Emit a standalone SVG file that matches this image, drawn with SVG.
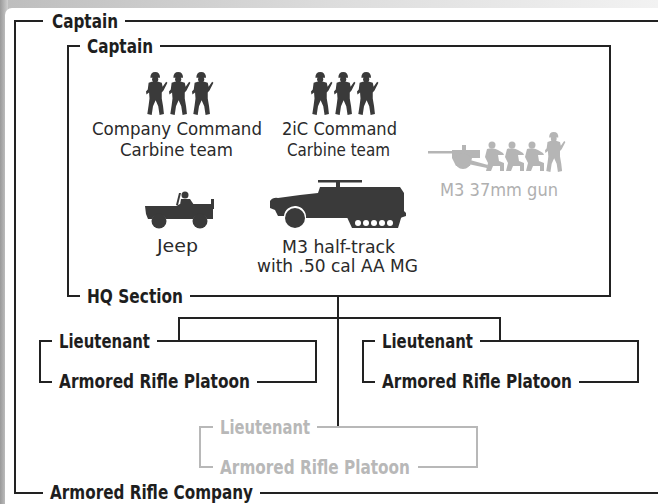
<svg xmlns="http://www.w3.org/2000/svg" width="658" height="504" viewBox="0 0 658 504">
<defs>
<linearGradient id="bgL" x1="0" y1="0" x2="1" y2="0">
<stop offset="0" stop-color="#9a9a9a"/><stop offset="1" stop-color="#d0d0d0"/>
</linearGradient>
<linearGradient id="bgT" x1="0" y1="0" x2="1" y2="0">
<stop offset="0" stop-color="#bdbdbd"/><stop offset="0.5" stop-color="#dcdcdc"/><stop offset="1" stop-color="#f2f2f2"/>
</linearGradient>
<symbol id="soldier" viewBox="0 0 24 44" preserveAspectRatio="none" overflow="visible">
<path d="M5,6 Q5,0 10.5,0 Q16,0 16,6 Z"/>
<circle cx="10.5" cy="7.5" r="3.5"/>
<path d="M3,11 Q10,8.5 18,11 L19,15 L23,10 L24.5,11 L20,19 L18,21 L18,27 L19.5,35 L20.5,43 L15.5,44 L14,35 L11,29 L8,35 L6.5,44 L1.5,43 L3,34 L4,27 L3.5,21 L0.5,23 L0,20 L2,18 Z"/>
</symbol>
<symbol id="crouch" viewBox="0 0 22 30" preserveAspectRatio="none" overflow="visible">
<circle cx="9" cy="4" r="3.5"/>
<path d="M4,8 Q10,6 15,9 L20,12 L21,14 L15,14 L16,20 L21,22 L21,30 L17,30 L17,25 L10,25 L8,30 L3,30 L5,22 L2,16 Z"/>
</symbol>
</defs>
<style>
.ln{fill:none;stroke:#222;stroke-width:2}
.gl{fill:none;stroke:#b8b8b8;stroke-width:2}
.hd{font-family:'DejaVu Sans Condensed','Liberation Sans',sans-serif;font-weight:bold;font-size:19.5px;fill:#1e1e1e}
.gh{font-family:'DejaVu Sans Condensed','Liberation Sans',sans-serif;font-weight:bold;font-size:19.5px;fill:#b8b8b8}
.lb{font-family:'DejaVu Sans Condensed','Liberation Sans',sans-serif;font-size:18px;fill:#2a2a2a}
.gt{font-family:'DejaVu Sans Condensed','Liberation Sans',sans-serif;font-size:18px;fill:#b0b0b0}
.ic{fill:#3a3a3a}
.gi{fill:#b5b5b5}
</style>
<rect x="0" y="0" width="658" height="504" fill="url(#bgT)"/>
<rect x="0" y="0" width="8" height="504" fill="url(#bgL)"/>
<rect x="5" y="8" width="680" height="520" rx="7" fill="#fff"/>

<g id="company">
<path class="ln" d="M43,21 H15 V493 H43"/>
<path class="ln" d="M125,21 H658"/>
<path class="ln" d="M260,493 H658"/>
<text class="hd" x="52" y="28" textLength="66" lengthAdjust="spacingAndGlyphs">Captain</text>
<text class="hd" x="50" y="499" textLength="203" lengthAdjust="spacingAndGlyphs">Armored Rifle Company</text>
</g>

<g id="hq">
<path class="ln" d="M80,46 H68 V296 H80"/>
<path class="ln" d="M160,46 H610 V296 H190"/>
<text class="hd" x="87" y="53" textLength="66" lengthAdjust="spacingAndGlyphs">Captain</text>
<text class="hd" x="87" y="303" textLength="96" lengthAdjust="spacingAndGlyphs">HQ Section</text>
</g>

<g id="cmd-team">
<use href="#soldier" x="146" y="72" width="21" height="43" class="ic"/>
<use href="#soldier" x="169" y="72" width="21" height="43" class="ic"/>
<use href="#soldier" x="192" y="72" width="21" height="43" class="ic"/>
<text class="lb" x="92" y="135" textLength="170" lengthAdjust="spacingAndGlyphs">Company Command</text>
<text class="lb" x="120" y="156" textLength="113" lengthAdjust="spacingAndGlyphs">Carbine team</text>
</g>

<g id="2ic-team">
<use href="#soldier" x="311" y="72" width="21" height="43" class="ic"/>
<use href="#soldier" x="334" y="72" width="21" height="43" class="ic"/>
<use href="#soldier" x="357" y="72" width="21" height="43" class="ic"/>
<text class="lb" x="282" y="135" textLength="115" lengthAdjust="spacingAndGlyphs">2iC Command</text>
<text class="lb" x="287" y="156" textLength="103" lengthAdjust="spacingAndGlyphs">Carbine team</text>
</g>

<g id="gun">
<g class="gi">
<rect x="428" y="151" width="44" height="2.5"/>
<rect x="462" y="145" width="4" height="8"/>
<path d="M452,150 H480 V158 H472 L470,166 H456 L452,158 Z"/>
<circle cx="463" cy="161" r="8"/>
<path d="M470,160 L488,165 L487,168 L468,164 Z"/>
<use href="#crouch" x="483" y="141" width="22" height="30"/>
<use href="#crouch" x="503" y="141" width="22" height="30"/>
<use href="#crouch" x="523" y="141" width="22" height="30"/>
<use href="#soldier" x="545" y="132" width="20" height="40"/>
</g>
<text class="gt" x="440" y="196" textLength="118" lengthAdjust="spacingAndGlyphs">M3 37mm gun</text>
</g>

<g id="jeep">
<g class="ic">
<path d="M145,206 H176 L180,204 H214 V209 H213 V219 H207 A8,8 0 0 0 193,219 H166 A8,8 0 0 0 152,219 H148 L146,214 Z"/>
<circle cx="159" cy="221" r="7.5"/>
<circle cx="200" cy="221" r="7.5"/>
<path d="M176,205 L179,193 L181,193 L178,205 Z"/>
<circle cx="185" cy="195" r="3.5"/>
<path d="M181,199 H190 L194,205 H180 Z"/>
<rect x="211" y="199" width="3" height="6"/>
</g>
<text class="lb" x="157" y="252" textLength="41" lengthAdjust="spacingAndGlyphs">Jeep</text>
</g>

<g id="halftrack">
<g class="ic">
<rect x="318" y="180" width="44" height="2.5"/>
<rect x="336" y="181" width="4" height="8"/>
<path d="M270,201 Q273,197 278,198 L300,195 L318,193 L320,187 H400 L404,193 V211 L406,213 V216 L400,218 H306 A11,11 0 0 0 284,216 H278 L275,210 L270,208 Z"/>
<circle cx="295" cy="218" r="10"/>
<path d="M346,215 H402 L398,228 H352 Z"/>
</g>
<g fill="#fff">
<circle cx="358" cy="223" r="3"/><circle cx="366" cy="223" r="3"/><circle cx="374" cy="223" r="3"/><circle cx="382" cy="223" r="3"/><circle cx="390" cy="223" r="3"/>
</g>
<text class="lb" x="282" y="253" textLength="113" lengthAdjust="spacingAndGlyphs">M3 half-track</text>
<text class="lb" x="257" y="272" textLength="161" lengthAdjust="spacingAndGlyphs">with .50 cal AA MG</text>
</g>

<g id="connectors">
<path class="ln" d="M338,296 V427"/>
<path class="ln" d="M179,341 V318 H500 V341"/>
</g>

<g id="platoon-1">
<path class="ln" d="M52,341 H40 V382 H52"/>
<path class="ln" d="M157,341 H316 V382 H257"/>
<text class="hd" x="59" y="348" textLength="91" lengthAdjust="spacingAndGlyphs">Lieutenant</text>
<text class="hd" x="59" y="388" textLength="191" lengthAdjust="spacingAndGlyphs">Armored Rifle Platoon</text>
</g>

<g id="platoon-2">
<path class="ln" d="M375,341 H363 V382 H375"/>
<path class="ln" d="M480,341 H638 V382 H579"/>
<text class="hd" x="382" y="348" textLength="91" lengthAdjust="spacingAndGlyphs">Lieutenant</text>
<text class="hd" x="382" y="388" textLength="190" lengthAdjust="spacingAndGlyphs">Armored Rifle Platoon</text>
</g>

<g id="platoon-3">
<path class="gl" d="M213,427 H200 V467 H213"/>
<path class="gl" d="M317,427 H477 V467 H418"/>
<text class="gh" x="220" y="434" textLength="90" lengthAdjust="spacingAndGlyphs">Lieutenant</text>
<text class="gh" x="220" y="474" textLength="190" lengthAdjust="spacingAndGlyphs">Armored Rifle Platoon</text>
</g>
</svg>
